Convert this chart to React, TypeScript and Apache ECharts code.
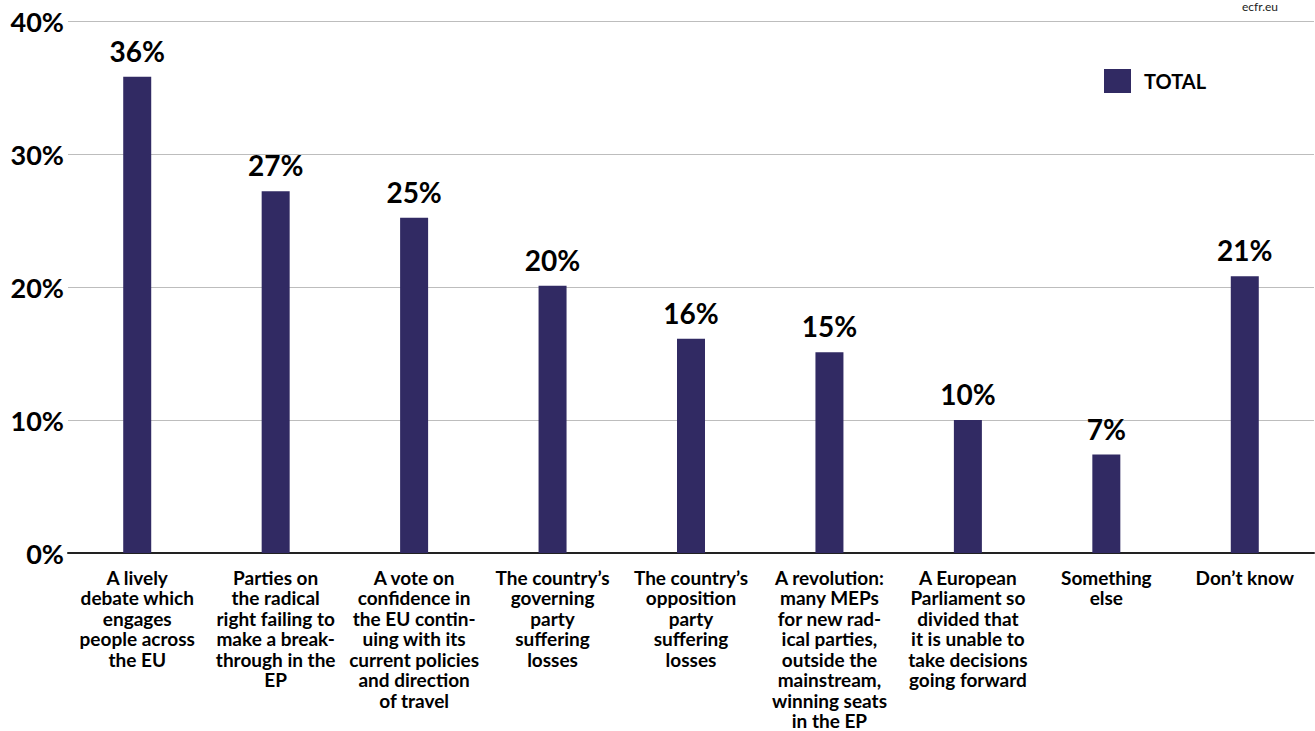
import React, { useEffect, useRef } from "react";
import * as echarts from "echarts";

const categories = [
  "A lively\ndebate which\nengages\npeople across\nthe EU",
  "Parties on\nthe radical\nright failing to\nmake a break-\nthrough in the\nEP",
  "A vote on\nconfidence in\nthe EU contin-\nuing with its\ncurrent policies\nand direction\nof travel",
  "The country’s\ngoverning\nparty\nsuffering\nlosses",
  "The country’s\nopposition\nparty\nsuffering\nlosses",
  "A revolution:\nmany MEPs\nfor new rad-\nical parties,\noutside the\nmainstream,\nwinning seats\nin the EP",
  "A European\nParliament so\ndivided that\nit is unable to\ntake decisions\ngoing forward",
  "Something\nelse",
  "Don’t know",
];
const totalValues = [35.8, 27.2, 25.2, 20.1, 16.1, 15.1, 10.0, 7.4, 20.8];
const valueLabels = ["36%", "27%", "25%", "20%", "16%", "15%", "10%", "7%", "21%"];
const seriesName = "TOTAL";
const sourceText = "ecfr.eu";

const FONT = "Lato, 'Noto Sans', sans-serif";

export default function App() {
  const ref = useRef<HTMLDivElement>(null);
  useEffect(() => {
    if (!ref.current) return;
    const chart = echarts.init(ref.current, undefined, { renderer: "svg" });
    chart.setOption({
      animation: false,
      backgroundColor: "#ffffff",
      textStyle: { fontFamily: FONT },
      grid: { left: 68, right: 1, top: 21, bottom: 176, containLabel: false },
      legend: {
        data: [seriesName],
        left: 1099,
        top: 64,
        itemWidth: 27,
        itemHeight: 24,
        itemGap: 10,
        icon: "rect",
        textStyle: { fontFamily: FONT, fontWeight: "bold", fontSize: 20, color: "#000", padding: [0, 0, 0, 8] },
      },
      graphic: [
        {
          type: "text",
          right: 37,
          top: 0,
          style: { text: sourceText, fontFamily: FONT, fontSize: 12, fill: "#222" },
        },
      ],
      xAxis: {
        type: "category",
        data: categories,
        axisTick: { show: false },
        axisLine: { show: true, lineStyle: { color: "#222", width: 2 } },
        axisLabel: {
          interval: 0,
          margin: 14,
          color: "#000",
          fontFamily: FONT,
          fontWeight: "bold",
          fontSize: 19,
          lineHeight: 20.5,
          align: "center",
        },
      },
      yAxis: {
        type: "value",
        min: 0,
        max: 40,
        interval: 10,
        axisLine: { show: false },
        axisTick: { show: false },
        splitLine: { lineStyle: { color: "#bdbdbd", width: 1 } },
        axisLabel: {
          formatter: (v: number) => v + "%",
          color: "#000",
          fontFamily: FONT,
          fontWeight: "bold",
          fontSize: 27,
          margin: 4,
        },
      },
      series: [
        {
          name: seriesName,
          type: "bar",
          data: totalValues,
          barWidth: 28,
          itemStyle: { color: "#312a63" },
          label: {
            show: true,
            position: "top",
            distance: 12,
            formatter: (p: any) => valueLabels[p.dataIndex],
            color: "#000",
            fontFamily: FONT,
            fontWeight: "bold",
            fontSize: 28,
          },
        },
      ],
    });
    return () => chart.dispose();
  }, []);
  return <div ref={ref} style={{ width: 1315, height: 731, position: "absolute", left: 0, top: 0 }} />;
}
